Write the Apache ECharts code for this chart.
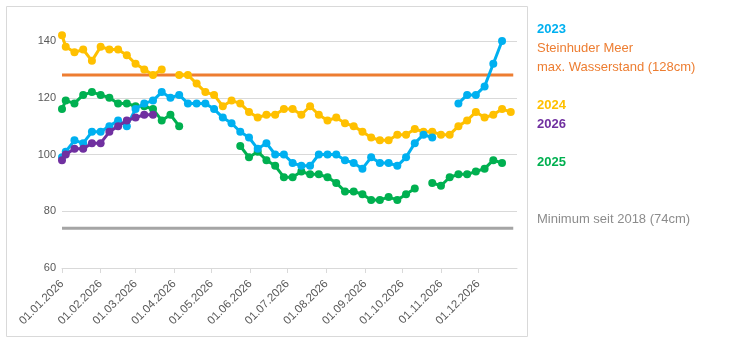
<!DOCTYPE html>
<html><head><meta charset="utf-8">
<script src="https://cdn.jsdelivr.net/npm/echarts@6/dist/echarts.min.js"></script>
<style>html,body{margin:0;padding:0;background:#fff}#c{width:731px;height:346px}</style>
</head><body><div id="c"></div>
<script>
// measurement dates (all years mapped onto 2026)
const dates = ['2026-01-01','2026-01-04','2026-01-11','2026-01-18','2026-01-25','2026-02-01','2026-02-08','2026-02-15','2026-02-22',
 '2026-03-01','2026-03-08','2026-03-15','2026-03-22','2026-03-29','2026-04-05','2026-04-12','2026-04-19','2026-04-26',
 '2026-05-03','2026-05-10','2026-05-17','2026-05-24','2026-05-31','2026-06-07','2026-06-14','2026-06-21','2026-06-28',
 '2026-07-05','2026-07-12','2026-07-19','2026-07-26','2026-08-02','2026-08-09','2026-08-16','2026-08-23','2026-08-30',
 '2026-09-06','2026-09-13','2026-09-20','2026-09-27','2026-10-04','2026-10-11','2026-10-18','2026-10-25',
 '2026-11-01','2026-11-08','2026-11-15','2026-11-22','2026-11-29','2026-12-06','2026-12-13','2026-12-20','2026-12-27'];
const s2023 = [99,101,105,104,108,108,110,112,110,116,118,119,122,120,121,118,118,118,116,113,111,108,106,102,104,100,100,97,96,96,100,100,100,98,97,95,99,97,97,96,99,104,107,106,null,null,118,121,121,124,132,140,null];
const s2024 = [142,138,136,137,133,138,137,137,135,132,130,128,130,null,128,128,125,122,121,117,119,118,115,113,114,114,116,116,114,117,114,112,113,111,110,108,106,105,105,107,107,109,108,108,107,107,110,112,115,113,114,116,115];
const s2025 = [116,119,118,121,122,121,120,118,118,117,117,116,112,114,110,null,null,null,null,null,null,103,99,101,98,96,92,92,94,93,93,92,90,87,87,86,84,84,85,84,86,88,null,90,89,92,93,93,94,95,98,97,null];
const s2026 = [98,100,102,102,104,104,108,110,112,113,114,114];
const refDates = ['2026-01-01','2026-12-29'];
const maxLevel = [128,128];
const minLevel = [74,74];
const yTicks = [60,80,100,120,140];
const legendItems = [
  {text:'2023', color:'#00B0F0', bold:true, y:29},
  {text:'Steinhuder Meer', color:'#ED7D31', bold:false, y:48},
  {text:'max. Wasserstand (128cm)', color:'#ED7D31', bold:false, y:67},
  {text:'2024', color:'#FFC000', bold:true, y:105},
  {text:'2026', color:'#7030A0', bold:true, y:124},
  {text:'2025', color:'#00B050', bold:true, y:162},
  {text:'Minimum seit 2018 (74cm)', color:'#8C8C8C', bold:false, y:219}
];

function toTs(s){const p=s.split('-');return new Date(+p[0],+p[1]-1,+p[2]).getTime();}
function pairs(ds, vs){return vs.map((v,i)=>[toTs(ds[i]), v]);}
function pad(n){return (n<10?'0':'')+n;}

const chart = echarts.init(document.getElementById('c'), null, {renderer:'canvas'});
function lineSeries(name, data, color, z){
  return {name, type:'line', data:pairs(dates,data), connectNulls:false, clip:false, z,
    symbol:'circle', symbolSize:8, showSymbol:true,
    lineStyle:{color, width:3}, itemStyle:{color, borderWidth:0}};
}
chart.setOption({
  animation:false,
  grid:{left:62, right:214, top:41, bottom:78},
  xAxis:{type:'time', min:toTs('2026-01-01'), max:toTs('2027-01-01'),
    splitNumber:12, minInterval:28*86400000, maxInterval:31*86400000,
    axisLine:{lineStyle:{color:'#D9D9D9'}},
    axisTick:{show:true, length:5, lineStyle:{color:'#D9D9D9'}},
    splitLine:{show:false},
    axisLabel:{rotate:45, color:'#595959', fontSize:11.5, fontFamily:'Liberation Sans, Arial, sans-serif', margin:14,
      showMaxLabel:false, hideOverlap:false,
      formatter:function(v){const d=new Date(v);return pad(d.getDate())+'.'+pad(d.getMonth()+1)+'.'+d.getFullYear();}}
  },
  yAxis:{type:'value', min:yTicks[0], max:yTicks[yTicks.length-1], interval:20,
    axisLine:{show:false}, axisTick:{show:false},
    splitLine:{lineStyle:{color:'#D9D9D9'}},
    axisLabel:{color:'#595959', fontSize:11, fontFamily:'Liberation Sans, Arial, sans-serif', margin:6}
  },
  series:[
    {name:'Minimum', type:'line', data:pairs(refDates,minLevel), symbol:'none', z:1, lineStyle:{color:'#A5A5A5', width:3}},
    {name:'max', type:'line', data:pairs(refDates,maxLevel), symbol:'none', z:2, lineStyle:{color:'#ED7D31', width:3}},
    lineSeries('2024', s2024, '#FFC000', 3),
    lineSeries('2025', s2025, '#00B050', 4),
    lineSeries('2023', s2023, '#00B0F0', 5),
    lineSeries('2026', s2026, '#7030A0', 6)
  ],
  graphic:[
    {type:'rect', shape:{x:6.5, y:6.5, width:521, height:330}, style:{fill:'none', stroke:'#D9D9D9', lineWidth:1}, silent:true}
  ].concat(legendItems.map(it=>({type:'text', x:537, y:it.y,
    style:{text:it.text, fill:it.color, font:(it.bold?'bold ':'')+'13px Liberation Sans, Arial, sans-serif', verticalAlign:'middle', align:'left'}})))
});
</script></body></html>
